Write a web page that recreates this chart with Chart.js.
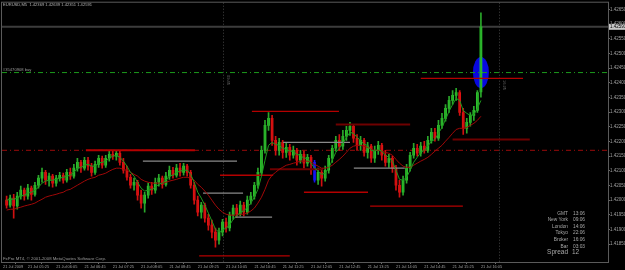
<!DOCTYPE html>
<html><head><meta charset="utf-8">
<script src="https://cdn.jsdelivr.net/npm/chart.js@4.4.0/dist/chart.umd.min.js"></script>
<style>
html,body{margin:0;padding:0;background:#000;overflow:hidden;}
#wrap{position:relative;width:625px;height:270px;}
canvas{display:block}
</style></head><body>
<div id="wrap"><canvas id="c" width="625" height="270"></canvas></div>
<script>
// ---------- DATA ----------
const titleText = "EURUSD,M5  1.42369 1.42639 1.42351 1.42591";
const openPrices = [1.42000,1.41983,1.42007,1.41980,1.42014,1.42034,1.42014,1.42041,1.42020,1.42051,
1.42075,1.42095,1.42068,1.42082,1.42058,1.42075,1.42085,1.42068,1.42095,1.42082,
1.42109,1.42129,1.42109,1.42136,1.42116,1.42095,1.42122,1.42143,1.42119,1.42143,
1.42156,1.42150,1.42160,1.42129,1.42102,1.42078,1.42051,1.42061,1.42017,1.41990,
1.42017,1.42048,1.42034,1.42061,1.42075,1.42054,1.42082,1.42102,1.42085,1.42109,
1.42095,1.42116,1.42095,1.42051,1.42000,1.41959,1.41983,1.41939,1.41915,1.41891,
1.41864,1.41891,1.41925,1.41905,1.41949,1.41973,1.41952,1.41983,1.41959,1.42000,
1.42014,1.42051,1.42095,1.42170,1.42255,1.42279,1.42204,1.42170,1.42197,1.42163,
1.42180,1.42153,1.42170,1.42136,1.42156,1.42126,1.42146,1.42129,1.42068,1.42095,
1.42075,1.42102,1.42143,1.42177,1.42204,1.42184,1.42218,1.42238,1.42252,1.42211,
1.42187,1.42204,1.42163,1.42184,1.42143,1.42170,1.42187,1.42153,1.42129,1.42143,
1.42109,1.42051,1.42027,1.42068,1.42109,1.42153,1.42177,1.42160,1.42184,1.42170,
1.42204,1.42231,1.42211,1.42255,1.42279,1.42313,1.42340,1.42357,1.42367,1.42299,
1.42245,1.42265,1.42289,1.42306,1.42369];
const highPrices = [1.42014,1.42017,1.42020,1.42027,1.42048,1.42041,1.42054,1.42048,1.42061,1.42085,
1.42109,1.42102,1.42092,1.42088,1.42085,1.42095,1.42092,1.42105,1.42109,1.42122,
1.42143,1.42136,1.42146,1.42146,1.42126,1.42133,1.42153,1.42150,1.42153,1.42167,
1.42170,1.42167,1.42167,1.42143,1.42116,1.42088,1.42075,1.42068,1.42034,1.42027,
1.42058,1.42061,1.42075,1.42088,1.42082,1.42095,1.42116,1.42112,1.42122,1.42126,
1.42126,1.42122,1.42102,1.42061,1.42014,1.41993,1.41990,1.41952,1.41932,1.41905,
1.41905,1.41935,1.41939,1.41959,1.41983,1.41986,1.41997,1.41993,1.42014,1.42027,
1.42061,1.42109,1.42184,1.42272,1.42299,1.42289,1.42218,1.42211,1.42204,1.42194,
1.42190,1.42184,1.42177,1.42170,1.42167,1.42156,1.42153,1.42136,1.42109,1.42102,
1.42116,1.42153,1.42187,1.42218,1.42224,1.42238,1.42252,1.42265,1.42258,1.42224,
1.42218,1.42211,1.42197,1.42190,1.42184,1.42201,1.42194,1.42170,1.42156,1.42150,
1.42119,1.42068,1.42082,1.42122,1.42163,1.42194,1.42190,1.42197,1.42201,1.42218,
1.42245,1.42245,1.42272,1.42296,1.42326,1.42354,1.42374,1.42381,1.42374,1.42313,
1.42279,1.42299,1.42320,1.42374,1.42639];
const lowPrices = [1.41973,1.41976,1.41939,1.41969,1.42003,1.42000,1.42003,1.42000,1.42014,1.42041,
1.42061,1.42054,1.42048,1.42044,1.42048,1.42065,1.42058,1.42061,1.42071,1.42075,
1.42099,1.42095,1.42102,1.42102,1.42082,1.42088,1.42112,1.42109,1.42112,1.42133,
1.42139,1.42136,1.42119,1.42092,1.42068,1.42041,1.42034,1.42000,1.41973,1.41959,
1.42007,1.42020,1.42024,1.42048,1.42041,1.42048,1.42071,1.42075,1.42078,1.42082,
1.42085,1.42082,1.42041,1.41986,1.41946,1.41939,1.41925,1.41898,1.41871,1.41840,
1.41850,1.41878,1.41891,1.41895,1.41935,1.41942,1.41946,1.41946,1.41952,1.41986,
1.42003,1.42041,1.42085,1.42160,1.42238,1.42187,1.42153,1.42153,1.42143,1.42146,
1.42136,1.42143,1.42119,1.42126,1.42109,1.42116,1.42088,1.42061,1.42054,1.42048,
1.42065,1.42092,1.42129,1.42167,1.42170,1.42173,1.42204,1.42221,1.42197,1.42170,
1.42170,1.42150,1.42143,1.42129,1.42129,1.42156,1.42136,1.42116,1.42112,1.42095,
1.42034,1.42010,1.42017,1.42058,1.42099,1.42143,1.42150,1.42150,1.42160,1.42163,
1.42194,1.42201,1.42204,1.42245,1.42269,1.42299,1.42326,1.42340,1.42289,1.42224,
1.42228,1.42252,1.42272,1.42299,1.42351];
const closePrices = [1.41983,1.42007,1.41980,1.42014,1.42034,1.42014,1.42041,1.42020,1.42051,1.42075,
1.42095,1.42068,1.42082,1.42058,1.42075,1.42085,1.42068,1.42095,1.42082,1.42109,
1.42129,1.42109,1.42136,1.42116,1.42095,1.42122,1.42143,1.42119,1.42143,1.42156,
1.42150,1.42160,1.42129,1.42102,1.42078,1.42051,1.42061,1.42017,1.41990,1.42017,
1.42048,1.42034,1.42061,1.42075,1.42054,1.42082,1.42102,1.42085,1.42109,1.42095,
1.42116,1.42095,1.42051,1.42000,1.41959,1.41983,1.41939,1.41915,1.41891,1.41864,
1.41891,1.41925,1.41905,1.41949,1.41973,1.41952,1.41983,1.41959,1.42000,1.42014,
1.42051,1.42095,1.42170,1.42255,1.42279,1.42204,1.42170,1.42197,1.42163,1.42180,
1.42153,1.42170,1.42136,1.42156,1.42126,1.42146,1.42129,1.42068,1.42095,1.42075,
1.42102,1.42143,1.42177,1.42204,1.42184,1.42218,1.42238,1.42252,1.42211,1.42187,
1.42204,1.42163,1.42184,1.42143,1.42170,1.42187,1.42153,1.42129,1.42143,1.42109,
1.42051,1.42027,1.42068,1.42109,1.42153,1.42177,1.42160,1.42184,1.42170,1.42204,
1.42231,1.42211,1.42255,1.42279,1.42313,1.42340,1.42357,1.42367,1.42299,1.42245,
1.42265,1.42289,1.42306,1.42367,1.42591];
const maFast = [1.42000,1.42003,1.42003,1.42007,1.42014,1.42017,1.42024,1.42027,1.42034,1.42044,
1.42058,1.42065,1.42068,1.42068,1.42071,1.42075,1.42078,1.42082,1.42085,1.42095,
1.42109,1.42112,1.42119,1.42122,1.42116,1.42116,1.42126,1.42129,1.42133,1.42143,
1.42150,1.42153,1.42146,1.42133,1.42116,1.42095,1.42082,1.42061,1.42041,1.42031,
1.42034,1.42037,1.42044,1.42054,1.42058,1.42068,1.42082,1.42085,1.42095,1.42099,
1.42102,1.42102,1.42088,1.42061,1.42027,1.42007,1.41983,1.41956,1.41929,1.41901,
1.41891,1.41898,1.41905,1.41915,1.41935,1.41946,1.41959,1.41963,1.41976,1.41990,
1.42010,1.42037,1.42082,1.42136,1.42187,1.42197,1.42190,1.42187,1.42177,1.42173,
1.42167,1.42167,1.42156,1.42153,1.42143,1.42143,1.42126,1.42109,1.42099,1.42088,
1.42092,1.42109,1.42136,1.42163,1.42177,1.42194,1.42214,1.42231,1.42228,1.42214,
1.42204,1.42190,1.42187,1.42170,1.42167,1.42173,1.42167,1.42153,1.42146,1.42133,
1.42102,1.42071,1.42068,1.42078,1.42102,1.42129,1.42146,1.42163,1.42170,1.42184,
1.42201,1.42207,1.42228,1.42248,1.42275,1.42303,1.42326,1.42347,1.42340,1.42306,
1.42296,1.42289,1.42292,1.42313,1.42340];
const maSlow = [1.41966,1.41969,1.41969,1.41973,1.41976,1.41980,1.41983,1.41986,1.41990,1.41997,
1.42003,1.42010,1.42014,1.42017,1.42020,1.42024,1.42027,1.42034,1.42037,1.42044,
1.42051,1.42058,1.42065,1.42071,1.42075,1.42078,1.42085,1.42088,1.42092,1.42099,
1.42105,1.42109,1.42109,1.42105,1.42102,1.42095,1.42088,1.42082,1.42071,1.42065,
1.42061,1.42058,1.42058,1.42058,1.42058,1.42061,1.42065,1.42068,1.42071,1.42075,
1.42078,1.42078,1.42075,1.42068,1.42054,1.42044,1.42031,1.42017,1.42000,1.41983,
1.41969,1.41959,1.41952,1.41949,1.41949,1.41949,1.41952,1.41952,1.41956,1.41963,
1.41973,1.41990,1.42010,1.42037,1.42068,1.42085,1.42095,1.42105,1.42112,1.42119,
1.42122,1.42126,1.42129,1.42133,1.42133,1.42133,1.42129,1.42122,1.42116,1.42109,
1.42109,1.42112,1.42119,1.42129,1.42139,1.42150,1.42163,1.42177,1.42184,1.42187,
1.42187,1.42184,1.42180,1.42173,1.42170,1.42170,1.42167,1.42163,1.42160,1.42153,
1.42139,1.42126,1.42116,1.42112,1.42112,1.42119,1.42126,1.42133,1.42139,1.42146,
1.42156,1.42167,1.42177,1.42187,1.42201,1.42214,1.42228,1.42241,1.42245,1.42245,
1.42248,1.42255,1.42262,1.42272,1.42286];
const highlightBar = 87;

const timeTickBars = [-1,6,14,22,30,38,46,54,62,70,78,86,94,102,110,118,126,134];
const timeTickLabels = ["21 Jul 2009","21 Jul 05:25","21 Jul 06:05","21 Jul 06:45","21 Jul 07:25","21 Jul 08:05","21 Jul 08:45","21 Jul 09:25","21 Jul 10:05","21 Jul 10:45","21 Jul 11:25","21 Jul 12:05","21 Jul 12:45","21 Jul 13:25","21 Jul 14:05","21 Jul 14:45","21 Jul 15:25","21 Jul 16:05"];
const priceTicks = [1.4185,1.4190,1.4195,1.4200,1.4205,1.4210,1.4215,1.4220,1.4225,1.4230,1.4235,1.4240,1.4245,1.4250,1.4255,1.4260,1.4265];

const orderPrice = 1.42435, orderLabel = "#35470908 buy";
const pivotPrice = 1.42170;
const bidPrice = 1.42591;

const segFrom  = [22.4, 38.5, 69.3, 93.0, 78.1, 98.1, 74.4, 60.3, 84.0, 102.7, 55.5, 64.5, 54.4, 126.0, 117.0];
const segTo    = [53.2, 65.1, 93.9, 114.0, 97.0, 112.5, 89.4, 75.3, 102.1, 128.9, 66.8, 75.0, 80.0, 147.8, 145.9];
const segPrice = [1.42170,1.42133,1.42303,1.42258,1.42197,1.42109,1.42105,1.42085,1.42027,1.41980,1.42024,1.41942,1.41810,1.42207,1.42415];
const segKind  = ['red','gray','red','dark','gray','gray','dark','red','red','red','gray','gray','red','dark','red'];

const vLineBars = [61, 139];
const vLineTexts = ["09:45", "16:25"];
const markBar = 134, markPrice = 1.42435;

const infoLabels = ["GMT","New York","London","Tokyo","Broker","Bar"];
const infoValues = ["13:06","09:06","14:06","22:06","16:06","03:03"];
const spreadValue = "12";

// ---------- BUILD ----------
const N = closePrices.length;
const BULL='#2fe22f', BEAR='#f01414', BULLW='#2aa82a', BEARW='#d01010', HIL='#1414f0';
const bodies = [], wicks=[], bodyCol=[], wickCol=[];
for (let i=0;i<N;i++){
  const up = closePrices[i] >= openPrices[i];
  bodies.push({x:i, y:[openPrices[i], closePrices[i]]});
  wicks.push({x:i, y:[lowPrices[i], highPrices[i]]});
  bodyCol.push(i===highlightBar?HIL:(up?BULL:BEAR));
  wickCol.push(i===highlightBar?HIL:(up?BULLW:BEARW));
}
const X_MIN=-1.3, X_MAX=169.9;
const kindColor = {red:'#b40000', gray:'#8a8a8a', dark:'#6e0000'};
const kindWidth = {red:1.3, gray:1.3, dark:2};
const datasets = [];
segFrom.forEach((f,k)=>{
  datasets.push({type:'line', data:[{x:f,y:segPrice[k]},{x:segTo[k],y:segPrice[k]}], borderColor:kindColor[segKind[k]], borderWidth:k===0?2:kindWidth[segKind[k]], pointRadius:0, order:1});
});
datasets.push({type:'line', data:[{x:X_MIN,y:orderPrice},{x:X_MAX,y:orderPrice}], borderColor:'#1c9a1c', borderWidth:1, borderDash:[5,3,1,3], pointRadius:0, order:3});
datasets.push({type:'line', data:[{x:X_MIN,y:pivotPrice},{x:X_MAX,y:pivotPrice}], borderColor:'#9a0a0a', borderWidth:1, borderDash:[5,3,1,3], pointRadius:0, order:3});
datasets.push({type:'line', data:[{x:X_MIN,y:bidPrice},{x:X_MAX,y:bidPrice}], borderColor:'#3c3c3c', borderWidth:2, pointRadius:0, order:4});
datasets.push({type:'line', data:maFast.map((v,i)=>({x:i,y:v})), borderColor:'#1e9a1e', borderWidth:1, pointRadius:0, tension:0, order:0});
datasets.push({type:'line', data:maSlow.map((v,i)=>({x:i,y:v})), borderColor:'#a00808', borderWidth:1, pointRadius:0, tension:0, order:0});
datasets.push({type:'bar', data:wicks, backgroundColor:wickCol, barThickness:1, grouped:false, order:2});
datasets.push({type:'bar', data:bodies, backgroundColor:bodyCol, barThickness:2, minBarLength:1, grouped:false, order:2});

const FONT = "'Liberation Sans', Arial, sans-serif";
const decor = {
  id:'decor',
  beforeDatasetsDraw(chart){
    const {ctx, chartArea:a, scales:{x,y}} = chart;
    ctx.save();
    ctx.strokeStyle='#444'; ctx.setLineDash([1,2]); ctx.lineWidth=1;
    vLineBars.forEach(b=>{const px=Math.round(x.getPixelForValue(b))+0.5; ctx.beginPath(); ctx.moveTo(px,a.top); ctx.lineTo(px,a.bottom); ctx.stroke();});
    ctx.setLineDash([]);
    ctx.fillStyle='#6a6a6a'; ctx.font='4px '+FONT;
    vLineBars.forEach((b,k)=>{const px=x.getPixelForValue(b); ctx.save(); ctx.translate(px+4, k===0?75:80); ctx.rotate(Math.PI/2); ctx.fillText(vLineTexts[k],0,0); ctx.restore();});
    ctx.fillStyle='#0808e0';
    ctx.beginPath(); ctx.ellipse(x.getPixelForValue(markBar), y.getPixelForValue(markPrice), 8, 15.5, 0, 0, Math.PI*2); ctx.fill();
    ctx.restore();
  },
  afterDatasetsDraw(chart){
    const {ctx, chartArea:a, scales:{x,y}} = chart;
    ctx.save();
    ctx.strokeStyle='#5a5a5a'; ctx.lineWidth=1;
    ctx.strokeRect(a.left-0.5, a.top-0.5, a.right-a.left+1, a.bottom-a.top+1);
    ctx.font='4.1px '+FONT; ctx.fillStyle='#b4b4b4'; ctx.textBaseline='middle'; ctx.textAlign='left';
    ctx.fillText(titleText, 3, 5);
    ctx.fillStyle='#9a9a9a';
    ctx.fillText(orderLabel, 3, y.getPixelForValue(orderPrice)-2.5);
    ctx.font='4.3px '+FONT;
    ctx.fillText("FxPro MT4, \u00a9 2001-2008 MetaQuotes Software Corp.", 3, 258.5);
    ctx.fillStyle='#a8a8a8'; ctx.font='4.8px '+FONT;
    const rows=[213.3,219.7,226.3,232.7,239.7,246.3];
    infoLabels.forEach((l,k)=>{ctx.textAlign='right'; ctx.fillText(l,568,rows[k]); ctx.textAlign='left'; ctx.fillText(infoValues[k],573,rows[k]);});
    ctx.font='6.5px '+FONT; ctx.textAlign='right'; ctx.fillText('Spread',568,252.5); ctx.textAlign='left'; ctx.fillText(spreadValue,572,252.5);
    const py=y.getPixelForValue(bidPrice);
    ctx.fillStyle='#c8c8c8'; ctx.fillRect(a.right+1, py-3, 16, 6);
    ctx.fillStyle='#000'; ctx.font='4.5px '+FONT; ctx.textAlign='left'; ctx.fillText(bidPrice.toFixed(5), a.right+2, py+0.3);
    ctx.restore();
  }
};

new Chart(document.getElementById('c'), {
  data:{datasets},
  options:{
    responsive:false, animation:false, devicePixelRatio:1,
    layout:{padding:{left:2,top:2,right:0,bottom:0}},
    plugins:{legend:{display:false}, tooltip:{enabled:false}},
    scales:{
      x:{type:'linear', min:X_MIN, max:X_MAX, offset:false,
         afterBuildTicks(s){ s.ticks = timeTickBars.map(v=>({value:v})); },
         afterFit(s){ s.height = 8; },
         ticks:{autoSkip:false, maxRotation:0, minRotation:0, align:'start', padding:1, color:'#a0a0a0', font:{size:3.9, family:FONT},
           callback(v,idx){ return timeTickLabels[idx]; }},
         grid:{display:true, drawOnChartArea:false, drawTicks:true, tickLength:2, color:'#6a6a6a'},
         border:{display:true, color:'#6a6a6a'}},
      y:{type:'linear', position:'right', min:1.417892, max:1.426732,
         afterBuildTicks(s){ s.ticks = priceTicks.map(v=>({value:v})); },
         afterFit(s){ s.width = 17; },
         ticks:{padding:0, color:'#a0a0a0', font:{size:4.5, family:FONT}, callback(v){ return v.toFixed(5); }},
         grid:{display:true, drawOnChartArea:false, drawTicks:true, tickLength:2, color:'#6a6a6a'},
         border:{display:true, color:'#6a6a6a'}}
    }
  },
  plugins:[decor]
});
</script>
</body></html>
